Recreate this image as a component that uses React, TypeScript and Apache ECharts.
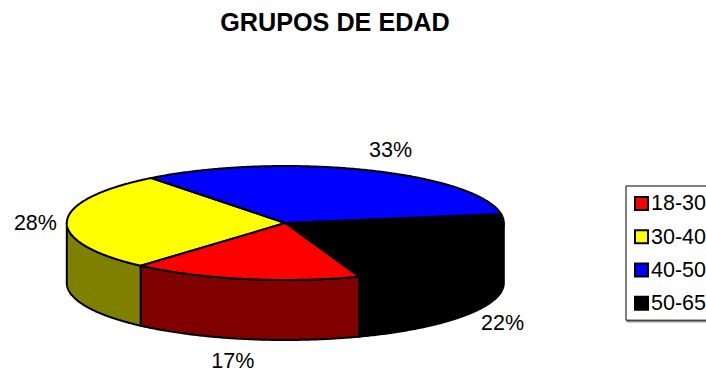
import React, { useEffect, useRef } from "react";
import * as echarts from "echarts";

const titleText = "GRUPOS DE EDAD";
const categories = ["18-30", "30-40", "40-50", "50-65"];
const values = [17, 28, 33, 22];
const topColors = ["#ff0000", "#ffff00", "#0000ff", "#000000"];
const sideColors = ["#800000", "#808000", "#000080", "#000000"];

const FONT = '"Liberation Sans", Arial, sans-serif';
const CX = 285.3, CY = 223, RX = 218.5, RY = 57, DEPTH = 60;
const START_DEG = 160.2; // clockwise from 12 o'clock
const labelNudgeX = [-5, 3.5, 12, -1];
const labelNudgeY = [1, 2, 0, 0];

const total = values.reduce((a, b) => a + b, 0);
const pt = (deg: number, dy = 0): number[] => {
  const r = (deg * Math.PI) / 180;
  return [CX + RX * Math.sin(r), CY - RY * Math.cos(r) + dy];
};
const arc = (a: number, b: number, dy = 0): number[][] => {
  const pts: number[][] = [];
  const n = Math.max(1, Math.ceil(Math.abs(b - a) * 2));
  for (let i = 0; i <= n; i++) pts.push(pt(a + ((b - a) * i) / n, dy));
  return pts;
};

function makeSeries(idx: number) {
  const before = values.slice(0, idx).reduce((a, b) => a + b, 0);
  return {
    type: "custom",
    name: categories[idx],
    coordinateSystem: "none",
    silent: true,
    itemStyle: { color: topColors[idx], borderColor: "#000", borderWidth: 2 },
    data: [[values[idx]]],
    renderItem: (_p: any, api: any) => {
      const v = api.value(0) as number;
      const a0 = START_DEG + (before / total) * 360;
      const a1 = a0 + (v / total) * 360;
      const children: any[] = [];
      const stroke = { stroke: "#000", lineWidth: 2, lineJoin: "round" };
      // Visible wall: the part of the rim that faces the viewer (90..270 degrees)
      for (const shift of [0, 360]) {
        const s = Math.max(a0 - shift, 90);
        const e = Math.min(a1 - shift, 270);
        if (e > s) {
          children.push({
            type: "polygon",
            shape: { points: [...arc(s, e), ...arc(e, s, DEPTH)] },
            style: { fill: sideColors[idx], ...stroke },
          });
        }
      }
      children.push({
        type: "polygon",
        shape: { points: [[CX, CY], ...arc(a0, a1)] },
        style: { fill: topColors[idx], ...stroke },
      });
      const mid = (((a0 + a1) / 2) * Math.PI) / 180;
      const cos = Math.cos(mid);
      children.push({
        type: "text",
        x: CX + (RX + 35) * Math.sin(mid) + labelNudgeX[idx],
        y: CY - (RY + 21) * cos + (cos < 0 ? DEPTH : 0) + labelNudgeY[idx],
        style: {
          text: `${Math.round((v / total) * 100)}%`,
          fontFamily: FONT,
          fontSize: 21.5,
          lineHeight: 18,
          fill: "#000",
          align: "center",
          verticalAlign: "middle",
        },
      });
      return { type: "group", children };
    },
  };
}

export default function App() {
  const ref = useRef<HTMLDivElement>(null);
  useEffect(() => {
    document.body.style.margin = "0";
    const chart = echarts.init(ref.current!, null, { renderer: "svg" });
    chart.setOption({
      animation: false,
      backgroundColor: "#fff",
      title: {
        text: titleText,
        left: 335,
        top: 8,
        textAlign: "center",
        padding: 0,
        textStyle: { fontFamily: FONT, fontSize: 25.2, fontWeight: "bold", color: "#000", lineHeight: 28 },
      },
      legend: {
        data: categories,
        orient: "vertical",
        left: 626,
        top: 186,
        padding: [6.4, 12, 5.9, 8],
        itemGap: 11.3,
        itemWidth: 13,
        itemHeight: 13,
        icon: "rect",
        itemStyle: { borderColor: "#000", borderWidth: 2 },
        selectedMode: false,
        backgroundColor: "#fff",
        borderColor: "#000",
        borderWidth: 1,
        shadowColor: "#808080",
        shadowOffsetX: 1,
        shadowOffsetY: 1.5,
        shadowBlur: 0,
        textStyle: { fontFamily: FONT, fontSize: 21.5, color: "#000", lineHeight: 20, padding: [0, 0, 0, -2] },
      },
      series: [1, 0, 3, 2].map(makeSeries),
    });
    return () => chart.dispose();
  }, []);
  return <div ref={ref} style={{ width: 706, height: 369 }} />;
}
